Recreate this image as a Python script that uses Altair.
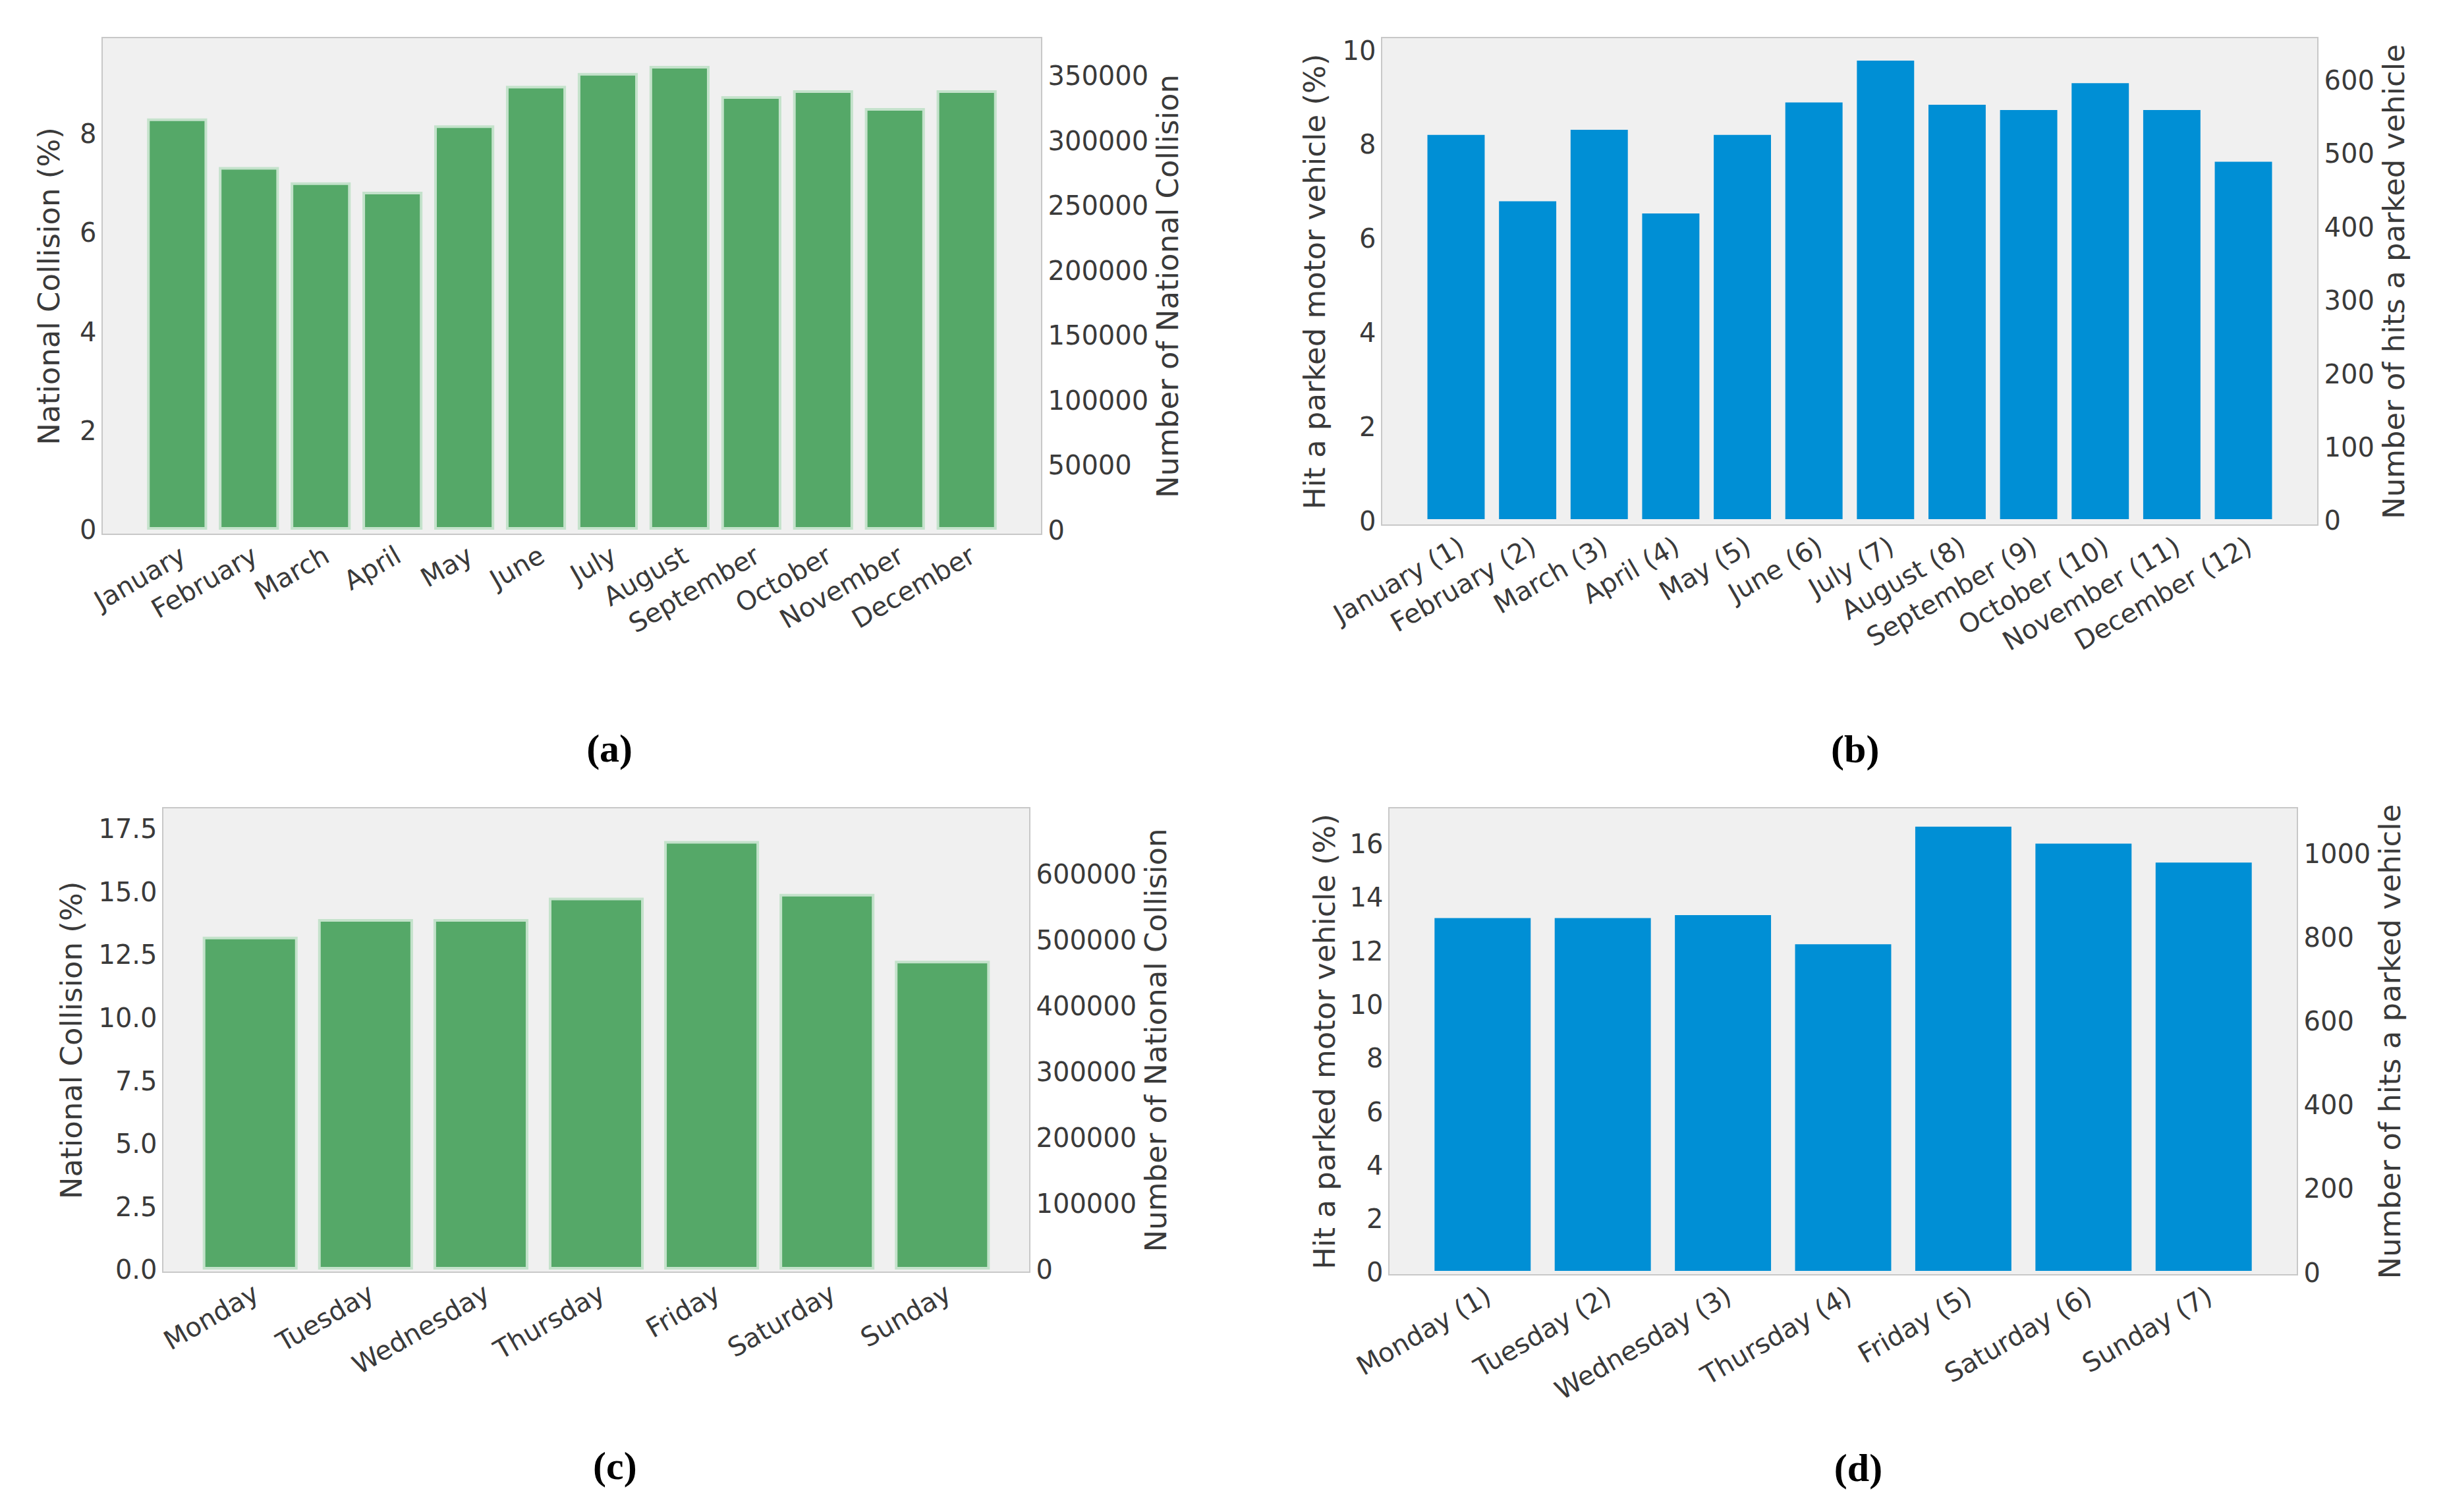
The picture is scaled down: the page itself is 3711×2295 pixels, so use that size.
import altair as alt
import pandas as pd

# ---------------- data ----------------
months = ["January", "February", "March", "April", "May", "June", "July",
          "August", "September", "October", "November", "December"]
months_num = ["January (1)", "February (2)", "March (3)", "April (4)", "May (5)",
              "June (6)", "July (7)", "August (8)", "September (9)", "October (10)",
              "November (11)", "December (12)"]
days = ["Monday", "Tuesday", "Wednesday", "Thursday", "Friday", "Saturday", "Sunday"]
days_num = ["Monday (1)", "Tuesday (2)", "Wednesday (3)", "Thursday (4)", "Friday (5)",
            "Saturday (6)", "Sunday (7)"]

national_month_pct = [8.25, 7.27, 6.96, 6.77, 8.11, 8.91, 9.17, 9.31, 8.70, 8.82, 8.46, 8.82]
parked_month_pct = [8.17, 6.76, 8.28, 6.50, 8.17, 8.86, 9.75, 8.81, 8.70, 9.27, 8.70, 7.60]
national_day_pct = [13.10, 13.80, 13.80, 14.65, 16.90, 14.80, 12.15]
parked_day_pct = [13.17, 13.17, 13.28, 12.19, 16.58, 15.95, 15.24]

GREEN = "#55a868"
GREEN_EDGE = "#c4e2cb"
BLUE = "#008fd5"
BG = "#f0f0f0"
TXT = "#3a3a3a"
FONT = "DejaVu Sans"


def panel(cats, vals, color, edge, edge_w, ltitle, rtitle, ldom, lticks, lfmt,
          rdom, rticks, width, height, pad_outer, caption, cap_offset, ltpad):
    df = pd.DataFrame({"cat": cats, "val": vals})
    bars = alt.Chart(df).mark_bar(color=color, stroke=edge, strokeWidth=edge_w).encode(
        x=alt.X("cat:N", sort=cats,
                scale=alt.Scale(paddingInner=0.2, paddingOuter=pad_outer),
                axis=alt.Axis(title=None, labelAngle=330, labelAlign="right",
                              labelBaseline="top", labelPadding=12, ticks=False,
                              domain=False, labelLimit=0)),
        y=alt.Y("val:Q",
                scale=alt.Scale(domain=ldom, nice=False, zero=False),
                axis=alt.Axis(title=ltitle, values=lticks, format=lfmt, grid=False,
                              ticks=False, domain=False, labelPadding=9,
                              labelOffset=4, titlePadding=ltpad)),
        y2=alt.Y2Datum(0),
    )
    right = alt.Chart(df).mark_rule(opacity=0).encode(
        y=alt.YDatum(0, type="quantitative",
                     scale=alt.Scale(domain=rdom, nice=False, zero=False),
                     axis=alt.Axis(orient="right", title=rtitle, values=rticks,
                                   format="d", grid=False, ticks=False, domain=False,
                                   labelPadding=9, labelOffset=4, titlePadding=9,
                                   titleAngle=270, titleBaseline="top")),
    )
    return alt.layer(bars, right).resolve_scale(y="independent").properties(
        width=width, height=height,
        title=alt.TitleParams(caption, orient="bottom", anchor="middle", frame="bounds",
                              offset=cap_offset, font="Liberation Serif", fontSize=60,
                              fontWeight="bold", color="#000000"),
    )


def spacer(w):
    return alt.Chart(pd.DataFrame({"v": [0]})).mark_point(opacity=0, size=1).encode(
        x=alt.value(0), y=alt.value(0)
    ).properties(width=w, height=1,
                 view=alt.ViewBackground(strokeOpacity=0, fillOpacity=0))


pa = panel(months, national_month_pct, GREEN, GREEN_EDGE, 4,
           "National Collision (%)", "Number of National Collision",
           [-0.12, 9.91], [0, 2, 4, 6, 8], "d",
           [-4570, 378350], [0, 50000, 100000, 150000, 200000, 250000, 300000, 350000],
           1426, 754, 0.645, "(a)", 141, 22)
pb = panel(months_num, parked_month_pct, BLUE, BLUE, 0,
           "Hit a parked motor vehicle (%)", "Number of hits a parked vehicle",
           [-0.126, 10.24], [0, 2, 4, 6, 8, 10], "d",
           [-8.1, 656], [0, 100, 200, 300, 400, 500, 600],
           1421, 740, 0.64, "(b)", 115, 18)
pc = panel(days, national_day_pct, GREEN, GREEN_EDGE, 4,
           "National Collision (%)", "Number of National Collision",
           [-0.157, 18.27], [0, 2.5, 5, 7.5, 10, 12.5, 15, 17.5], ".1f",
           [-6000, 698400], [0, 100000, 200000, 300000, 400000, 500000, 600000],
           1316, 705, 0.358, "(c)", 105, 16)
pd_ = panel(days_num, parked_day_pct, BLUE, BLUE, 0,
            "Hit a parked motor vehicle (%)", "Number of hits a parked vehicle",
            [-0.148, 17.29], [0, 2, 4, 6, 8, 10, 12, 14, 16], "d",
            [-9.4, 1106], [0, 200, 400, 600, 800, 1000],
            1379, 709, 0.38, "(d)", 69, 14)

row1 = alt.hconcat(spacer(146), pa, spacer(516), pb, spacing=0, bounds="flush")
row2 = alt.hconcat(spacer(238), pc, spacer(545), pd_, spacing=0, bounds="flush")

chart = alt.vconcat(row1, row2, spacing=48, bounds="full").properties(
    padding={"left": 0, "top": 48, "right": 0, "bottom": 0}
).configure_view(
    fill=BG, stroke="#c8c8c8", strokeWidth=2
).configure_axis(
    labelFont=FONT, titleFont=FONT, labelFontSize=40, titleFontSize=45,
    labelColor=TXT, titleColor=TXT, titleFontWeight="normal"
)

chart.save("out.html", embed_options={"renderer": "svg", "actions": False})
